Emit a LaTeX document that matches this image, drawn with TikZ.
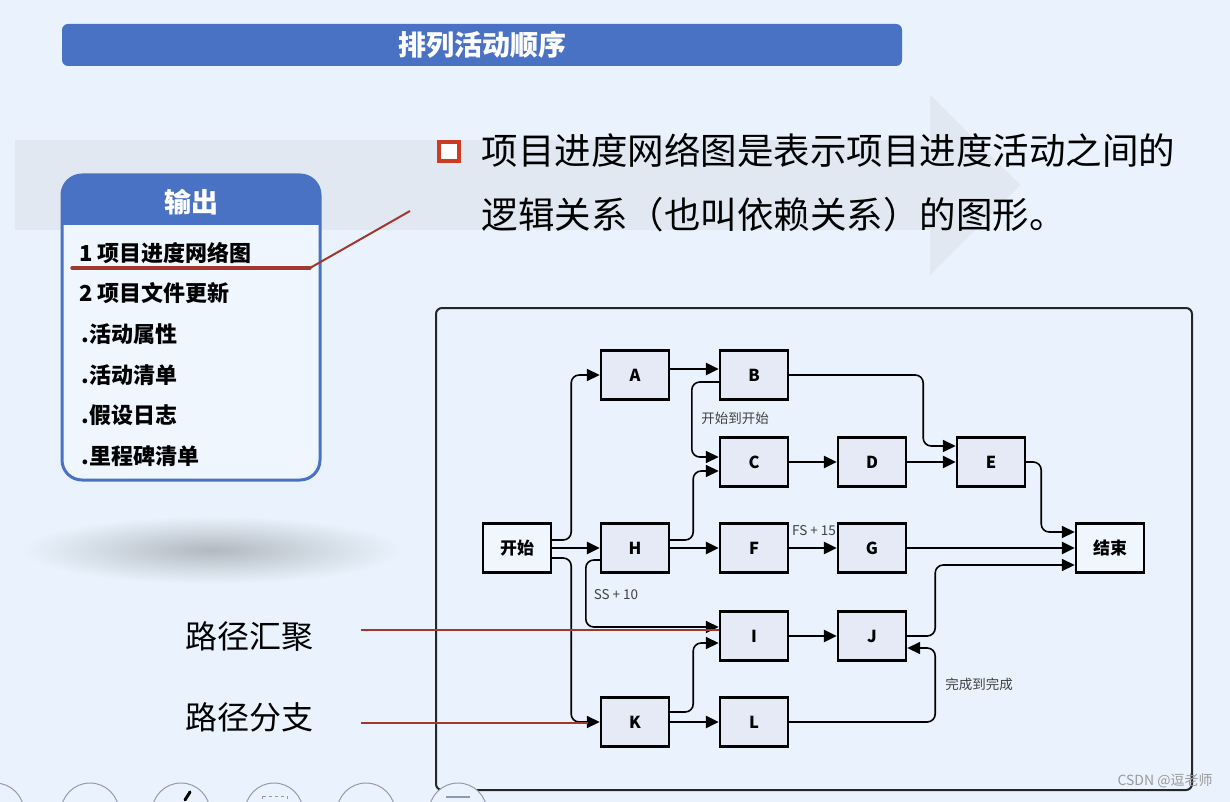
\documentclass[tikz,border=0pt]{standalone}
\usepackage{fontspec}
\setmainfont{Noto Sans CJK SC}
\usetikzlibrary{shapes, arrows.meta}

\definecolor{slidebg}{RGB}{234,243,253}
\definecolor{bandgray}{RGB}{225,232,242}
\definecolor{titleblue}{RGB}{74,114,196}
\definecolor{markred}{RGB}{160,56,46}
\definecolor{bulletred}{RGB}{204,60,34}
\definecolor{actfill}{RGB}{230,234,246}
\definecolor{endfill}{RGB}{240,246,254}
\definecolor{iconline}{RGB}{140,155,180}

\tikzset{
	act/.style={rectangle, draw, line width=2.4pt, fill=actfill, minimum width=68pt, minimum height=49pt, font=\fontsize{16.5}{16.5}\selectfont\bfseries},
	endpt/.style={act, fill=endfill, font=\fontsize{17}{17}\selectfont\bfseries},
	link/.style={->, line width=1.6pt, rounded corners=8pt},
	flow/.style={->, line width=2.4pt},
	lag/.style={font=\fontsize{13.5}{13.5}\selectfont, text=black!75},
	redline/.style={markred, line width=2.2pt},
	listitem/.style={anchor=west, font=\fontsize{22}{22}\selectfont\bfseries},
}

\begin{document}
\begin{tikzpicture}[x=1pt, y=-1pt, >={Triangle[length=13pt,width=12pt]}]
		\useasboundingbox (0,0) rectangle (1230,802);
		\fill[slidebg] (0,0) rectangle (1230,802);
		\fill[bandgray] (15,140) -- (930,140) -- (930,95) -- (1020,185) -- (930,275) -- (930,230) -- (15,230) -- cycle;

		% title bar
		\fill[titleblue, rounded corners=6pt] (62,24) rectangle (902,66);
		\node at (482,45) [text=white, font=\fontsize{28}{28}\selectfont\bfseries] (title) {排列活动顺序};

		% output box
		\fill[endfill, rounded corners=20pt] (62,175) rectangle (320,480);
		\fill[titleblue, rounded corners=20pt] (62,175) rectangle (320,260);
		\fill[endfill] (62,225) rectangle (320,270);
		\draw[titleblue, line width=3pt, rounded corners=20pt] (62,175) rectangle (320,480);
		\node at (191,202) [text=white, font=\fontsize{27}{27}\selectfont\bfseries] (outhead) {输出};
		\node at (76,253) [listitem] (item1) {1 项目进度网络图};
		\node at (76,293) [listitem] (item2) {2 项目文件更新};
		\node at (78,334) [listitem] (item3) {.活动属性};
		\node at (78,375) [listitem] (item4) {.活动清单};
		\node at (78,415) [listitem] (item5) {.假设日志};
		\node at (78,456) [listitem] (item6) {.里程碑清单};
		\draw[redline, line width=3.4pt, line cap=round] (72,268) -- (310,268);
		\draw[redline, line width=2pt] (310,268) -- (410,211);

		\draw[bulletred, line width=4pt, fill=white] (439,142) rectangle (459,161);
		\node at (478,150) [anchor=west, font=\fontsize{36.5}{36.5}\selectfont] (desc1) {项目进度网络图是表示项目进度活动之间的};
		\node at (478,215) [anchor=west, font=\fontsize{36.5}{36.5}\selectfont] (desc2) {逻辑关系（也叫依赖关系）的图形。};

		\shade[inner color=black!24!slidebg, outer color=slidebg] (212,550) ellipse (190pt and 34pt);

		\node at (249,636) [font=\fontsize{32}{32}\selectfont] (merge) {路径汇聚};
		\node at (249,717) [font=\fontsize{32}{32}\selectfont] (branch) {路径分支};

		% network
		\draw[black!85, line width=2pt, rounded corners=6pt] (436,308) rectangle (1192,790);
		\node at (517,548) [endpt] (start) {开始};
		\node at (635,375) [act] (A) {A};
		\node at (754,375) [act] (B) {B};
		\node at (754,462) [act] (C) {C};
		\node at (872,462) [act] (D) {D};
		\node at (991,462) [act] (E) {E};
		\node at (635,548) [act] (H) {H};
		\node at (754,548) [act] (F) {F};
		\node at (872,548) [act] (G) {G};
		\node at (1110,548) [endpt] (finish) {结束};
		\node at (754,636) [act] (I) {I};
		\node at (872,636) [act] (J) {J};
		\node at (635,722) [act] (K) {K};
		\node at (754,722) [act] (L) {L};

		\draw[link] ([yshift=8pt]start.east) -- ++(19,0) |- (A.west);
		\draw[flow] (start) -- (H);
		\draw[link] ([yshift=-10pt]start.east) -- ++(19,0) |- (K.west);
		\draw[flow] ([yshift=6pt]A.east) -- ([yshift=6pt]B.west);
		\draw[link] ([yshift=-7pt]B.west) -- ++(-27,0) |- ([yshift=5pt]C.west);
		\draw[link] ([yshift=8pt]H.east) -- ++(23,0) |- ([yshift=-9pt]C.west);
		\draw[link] (B.east) -- ++(134,0) |- ([yshift=16pt]E.west);
		\draw[flow] (C) -- (D);
		\draw[flow] (D) -- (E);
		\draw[link] (E.east) -- ++(15,0) |- ([yshift=16pt]finish.west);
		\draw[flow] (H) -- (F);
		\draw[flow] (F) -- (G);
		\draw[flow] (G) -- (finish);
		\draw[link] ([yshift=-12pt]H.west) -- ++(-14,0) |- ([yshift=9pt]I.west);
		\draw[link] ([yshift=10pt]K.east) -- ++(23,0) |- ([yshift=-7pt]I.west);
		\draw[flow] (I) -- (J);
		\draw[link] (J.east) -- ++(28,0) |- ([yshift=-17pt]finish.west);
		\draw[flow] (K) -- (L);
		\draw[link] (L.east) -- ++(146,0) |- ([yshift=-12pt]J.east);

		\node at (735,418) [lag] (ss) {开始到开始};
		\node at (814,531) [lag] (fs15) {FS + 15};
		\node at (616,595) [lag] (ss10) {SS + 10};
		\node at (979,684) [lag] (ff) {完成到完成};

		\draw[redline] ([xshift=44pt,yshift=6pt]merge.east) -- ([yshift=6pt]I.west);
		\draw[redline] ([xshift=44pt,yshift=-6pt]branch.east) -- ([xshift=-12pt,yshift=-1pt]K.west);

		% toolbar
		\begin{scope}
			\clip (0,0) rectangle (1230,802);
			\foreach \cx in {-5,90,181,274,366,458}
				\draw[iconline, line width=1pt, fill=slidebg] (\cx,812) circle (29pt);
			\draw[black, line width=3pt, line cap=round] (190,792) -- (185,800);
			\draw[iconline, dashed, line width=1pt] (262,796) rectangle (287,806);
			\draw[iconline, line width=2pt] (446,797) -- (470,797);
		\end{scope}
		\node at (1165,781) [text=black!40, font=\fontsize{14}{14}\selectfont] (mark) {CSDN @逗老师};
	\end{tikzpicture}
\end{document}
